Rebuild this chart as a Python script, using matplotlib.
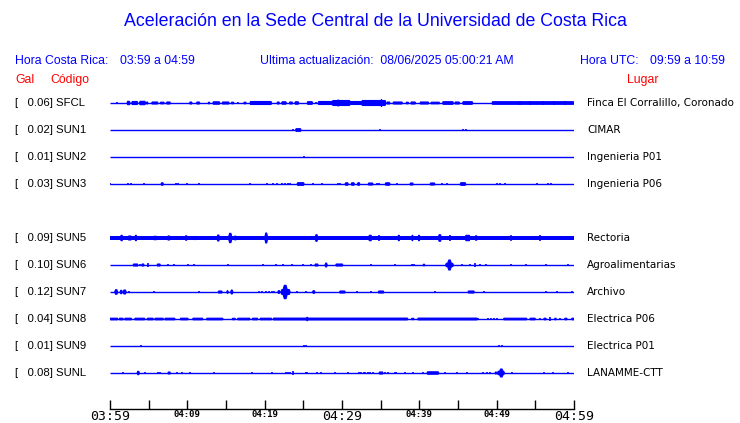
import matplotlib
matplotlib.use('Agg')
import matplotlib.pyplot as plt
from matplotlib.transforms import blended_transform_factory

# station table (top to bottom), SUN4 slot left empty
codes = ['SFCL', 'SUN1', 'SUN2', 'SUN3', 'SUN5', 'SUN6', 'SUN7', 'SUN8', 'SUN9', 'SUNL']
gals = [0.06, 0.02, 0.01, 0.03, 0.09, 0.10, 0.12, 0.04, 0.01, 0.08]
places = ['Finca El Corralillo, Coronado', 'CIMAR', 'Ingenieria P01', 'Ingenieria P06',
          'Rectoria', 'Agroalimentarias', 'Archivo', 'Electrica P06', 'Electrica P01',
          'LANAMME-CTT']

# minutes since 03:59, tick labels every 10 min
tick_min = list(range(0, 61, 5))
tick_lbl = {0: '03:59', 10: '04:09', 20: '04:19', 30: '04:29', 40: '04:39', 50: '04:49', 60: '04:59'}

# steady noise level of each trace (half width, px)
base_amp = [0, 0, 0, 0, 1.7, 0, 0, 0.3, 0, 0]

# bursts: (start min, end min, half amplitude px)
sfcl = [(0.8, 1.0, 0.7), (2.2, 2.6, 1.7), (2.8, 3.6, 1.5), (3.8, 4.6, 1.7), (4.7, 4.9, 1.0),
        (5.4, 6.2, 1.0), (6.5, 7.0, 0.8), (7.3, 7.8, 1.0), (10.3, 10.6, 1.0), (11.2, 11.6, 1.0),
        (12.7, 12.9, 0.8), (13.3, 14.2, 1.2), (14.5, 15.4, 1.0), (15.7, 16.0, 0.8),
        (16.5, 16.7, 0.8), (17.3, 17.6, 0.8), (18.1, 20.9, 1.5), (19.2, 19.4, 2.3),
        (21.6, 21.9, 1.0), (22.2, 22.8, 1.2), (23.2, 23.6, 1.0), (23.9, 24.4, 1.2),
        (25.5, 26.2, 1.3), (26.5, 26.7, 0.8), (26.9, 28.8, 1.5), (28.7, 31.1, 2.5),
        (29.4, 29.6, 3.0), (31.0, 32.6, 1.5), (32.5, 35.7, 2.5), (35.0, 35.2, 3.3),
        (35.8, 36.2, 1.0), (36.6, 37.8, 1.0), (38.3, 38.6, 0.8), (38.9, 39.5, 1.0),
        (40.1, 41.2, 1.0), (41.5, 42.6, 0.8), (43.0, 44.4, 1.3), (44.6, 45.2, 1.0),
        (45.6, 46.9, 1.3), (49.4, 60.0, 1.3), (53.0, 53.1, 2.0), (54.3, 54.4, 2.0),
        (56.0, 56.1, 2.0), (57.3, 57.4, 2.0), (58.8, 58.9, 2.0)]
sun1 = [(23.7, 23.7, 1.2), (24.0, 24.7, 1.3), (34.9, 34.9, 1.2), (45.6, 45.7, 1.2), (46.0, 46.1, 1.2)]
sun2 = [(25.1, 25.1, 1.3)]
sun3 = [(0.0, 0.0, 0.7), (2.3, 2.3, 1.0), (2.7, 2.7, 1.0), (4.4, 4.4, 1.0), (6.6, 6.9, 1.2),
        (8.5, 8.5, 1.0), (8.8, 8.8, 1.2), (10.0, 10.0, 0.5), (11.5, 11.5, 1.0), (18.1, 18.2, 1.0),
        (20.3, 20.3, 0.5), (21.1, 21.1, 1.0), (21.6, 21.6, 0.8), (22.2, 22.2, 0.8),
        (22.6, 22.6, 0.8), (23.0, 23.0, 0.8), (23.3, 23.3, 0.8), (24.2, 25.1, 1.3),
        (26.2, 26.3, 1.0), (27.4, 27.4, 0.7), (29.5, 29.5, 0.5), (29.7, 29.9, 1.0),
        (30.4, 30.8, 1.2), (31.2, 31.6, 1.2), (32.0, 32.3, 1.3), (33.4, 34.0, 1.0),
        (34.5, 34.5, 0.8), (34.8, 34.8, 0.8), (35.6, 36.2, 1.2), (37.1, 37.2, 1.0),
        (38.8, 39.2, 1.0), (41.4, 42.0, 1.0), (42.9, 42.9, 0.8), (43.6, 43.6, 0.8),
        (45.3, 46.0, 1.3), (50.0, 50.0, 0.7), (50.4, 50.4, 0.7), (51.1, 51.1, 0.7),
        (55.2, 55.2, 0.7), (56.6, 56.6, 0.7), (57.0, 57.0, 0.7)]
sun5 = [(1.3, 1.7, 2.7), (2.3, 2.8, 2.0), (3.2, 3.5, 2.7), (5.6, 6.1, 1.7), (7.4, 7.8, 2.0),
        (9.7, 10.0, 2.3), (10.7, 11.3, 1.5), (11.6, 11.6, 1.7), (13.3, 13.3, 1.5),
        (13.8, 14.2, 3.0), (15.3, 15.8, 4.7), (16.0, 16.4, 1.8), (20.0, 20.4, 5.0),
        (23.3, 23.3, 1.7), (24.3, 24.3, 1.7), (25.0, 25.0, 1.7), (26.5, 26.9, 3.3),
        (28.2, 28.2, 2.0), (32.1, 32.3, 2.0), (33.4, 33.9, 2.7), (34.7, 34.9, 3.3),
        (35.3, 35.3, 2.0), (36.6, 36.6, 1.5), (37.2, 37.5, 2.7), (38.4, 38.4, 2.0),
        (39.0, 39.2, 2.7), (39.8, 40.1, 2.7), (42.4, 42.9, 3.3), (44.0, 44.0, 2.7),
        (45.3, 45.3, 1.7), (45.9, 46.6, 2.7), (47.2, 47.5, 2.3), (50.0, 50.0, 1.5),
        (51.7, 52.0, 2.3), (52.8, 52.8, 1.7), (55.6, 55.6, 3.0), (57.8, 57.8, 1.5),
        (59.7, 59.9, 1.7)]
sun6 = [(3.0, 3.6, 1.0), (3.9, 3.9, 1.0), (4.1, 4.4, 1.0), (4.9, 4.9, 1.7), (6.1, 6.5, 1.0),
        (7.5, 7.5, 1.0), (8.3, 8.3, 0.8), (10.1, 10.1, 1.0), (10.9, 10.9, 1.0), (15.3, 15.3, 0.8),
        (19.8, 19.8, 0.7), (21.5, 21.5, 0.7), (22.4, 22.4, 0.7), (23.5, 23.5, 1.0),
        (25.0, 25.0, 0.7), (26.0, 26.0, 0.7), (26.5, 26.9, 1.0), (27.8, 28.1, 2.0),
        (29.2, 30.1, 1.0), (33.7, 33.7, 1.0), (36.9, 36.9, 0.8), (39.0, 39.0, 0.8),
        (39.3, 39.3, 0.8), (40.5, 40.7, 0.8), (43.4, 44.4, 1.7), (43.6, 44.2, 5.0),
        (45.5, 45.5, 0.8), (46.6, 46.6, 0.8), (47.1, 47.3, 1.7), (47.8, 47.8, 0.8),
        (48.6, 48.6, 0.8), (51.9, 51.9, 0.8), (53.8, 53.8, 0.8), (56.4, 56.4, 0.8),
        (59.2, 59.2, 0.8)]
sun7 = [(0.6, 1.0, 2.3), (1.3, 1.6, 1.7), (1.7, 2.1, 2.0), (2.5, 2.5, 1.0), (5.7, 5.7, 0.8),
        (9.8, 9.8, 0.5), (11.5, 11.5, 1.0), (14.0, 14.5, 1.0), (15.1, 15.3, 1.3),
        (15.6, 15.9, 2.0), (19.3, 19.3, 1.3), (19.7, 19.7, 1.3), (20.2, 20.2, 0.8),
        (20.6, 20.6, 0.8), (21.0, 21.0, 0.8), (21.2, 21.2, 0.8), (21.7, 22.0, 1.3),
        (22.1, 23.3, 2.5), (22.3, 23.0, 6.7), (24.2, 24.2, 0.8), (25.3, 25.3, 0.8),
        (26.2, 26.5, 1.3), (29.7, 30.4, 1.0), (31.9, 31.9, 1.0), (33.7, 33.7, 0.7),
        (34.7, 35.4, 1.0), (42.0, 42.0, 0.7), (46.3, 47.1, 1.0), (48.4, 48.4, 0.8),
        (56.4, 56.4, 0.7), (57.8, 57.8, 0.7), (59.6, 59.8, 1.0)]
sun8 = [(0.0, 1.0, 0.8), (1.2, 1.7, 0.8), (1.9, 2.8, 0.8), (3.2, 4.5, 0.8), (4.8, 5.6, 0.8),
        (5.8, 6.9, 0.8), (7.1, 8.4, 0.8), (9.1, 10.1, 0.8), (10.7, 12.0, 0.8), (12.5, 14.6, 0.8),
        (15.8, 16.2, 0.7), (16.5, 18.1, 0.8), (18.4, 19.1, 0.8), (19.4, 20.9, 0.8),
        (21.1, 31.0, 0.9), (25.4, 25.6, 1.7), (31.0, 38.5, 0.9), (39.0, 39.3, 0.7),
        (39.8, 47.5, 0.9), (47.6, 47.7, 0.8), (48.9, 48.9, 0.8), (49.3, 49.3, 0.8),
        (49.7, 49.7, 0.8), (50.1, 50.1, 0.8), (50.9, 53.9, 0.8), (54.3, 55.0, 0.8),
        (55.6, 55.6, 0.8), (56.1, 56.4, 0.8), (56.9, 57.0, 1.7), (57.5, 57.7, 0.8),
        (58.2, 58.2, 0.8), (58.8, 59.1, 0.8), (59.7, 60.0, 0.8)]
sun9 = [(4.0, 4.0, 1.0), (9.8, 9.8, 0.5), (25.1, 25.1, 0.8), (25.4, 25.4, 0.8), (50.3, 50.3, 0.8),
        (50.7, 50.7, 0.8)]
sunl = [(1.7, 1.7, 0.8), (3.5, 3.8, 1.7), (4.5, 4.5, 1.0), (6.2, 6.2, 1.0), (6.5, 6.5, 0.8),
        (7.5, 7.8, 1.0), (8.7, 8.7, 0.8), (9.3, 9.3, 0.8), (10.3, 10.3, 0.8), (13.4, 13.4, 0.8),
        (18.4, 18.4, 0.8), (20.9, 20.9, 1.0), (22.8, 22.8, 1.0), (23.0, 23.0, 1.0),
        (23.3, 23.3, 1.0), (23.7, 23.7, 1.7), (25.3, 25.3, 1.0), (25.5, 25.5, 1.0),
        (26.8, 26.8, 0.8), (27.3, 27.3, 0.8), (29.0, 29.2, 1.0), (30.8, 30.8, 0.8),
        (32.2, 32.2, 1.0), (32.5, 32.5, 1.0), (32.8, 32.8, 1.0), (33.0, 33.0, 1.0),
        (33.3, 33.3, 1.0), (33.6, 33.6, 1.3), (34.0, 34.0, 1.0), (34.8, 35.3, 1.0),
        (35.6, 35.6, 1.0), (35.9, 35.9, 1.0), (36.9, 36.9, 1.0), (37.0, 37.0, 0.8),
        (38.1, 38.1, 0.8), (39.2, 39.2, 1.0), (40.5, 40.5, 0.8), (41.0, 42.5, 1.2),
        (43.3, 43.3, 1.0), (44.9, 44.9, 1.0), (46.2, 46.2, 0.8), (48.2, 48.2, 0.8),
        (48.7, 48.7, 0.8), (49.1, 49.1, 0.8), (49.8, 50.0, 1.0), (50.1, 51.0, 1.7),
        (50.3, 50.9, 4.0), (52.0, 52.0, 0.8), (56.1, 56.1, 0.8), (57.3, 57.3, 0.8),
        (59.2, 59.2, 0.8)]
bursts = [sfcl, sun1, sun2, sun3, sun5, sun6, sun7, sun8, sun9, sunl]

W, H = 740, 423
ROW_PX = 27
slots = [0, 1, 2, 3, 5, 6, 7, 8, 9, 10]
blue = '#0000ff'
red = '#ff0000'
sans = 'Liberation Sans'

fig = plt.figure(figsize=(W / 100, H / 100), dpi=100)
fig.patch.set_facecolor('white')
ax = fig.add_axes([110 / W, 14 / H, 464 / W, (409 - 90) / H])
ax.set_xlim(0, 60)
ax.set_ylim((409 - 103) / ROW_PX, (90 - 103) / ROW_PX)

for slot, base, ev in zip(slots, base_amp, bursts):
    ax.hlines(slot, 0, 60, color=blue, lw=1.0)
    if base > 0:
        ax.bar(0, 2 * base / ROW_PX, width=60, bottom=slot - base / ROW_PX,
               align='edge', color=blue, lw=0)
    for t0, t1, amp in ev:
        a = amp / ROW_PX
        w = t1 - t0
        if w < 0.2:
            # single spike
            ax.vlines((t0 + t1) / 2, slot - a, slot + a, color=blue, lw=1.2)
        else:
            # burst, ends tapered more for the big ones
            d = min(w / 3, 0.05 * amp)
            xs = [t0, t0 + d, t1 - d, t1, t1 - d, t0 + d]
            ys = [slot, slot - a, slot - a, slot, slot + a, slot + a]
            ax.fill(xs, ys, color=blue, lw=0.8)

for s in ['left', 'right', 'top']:
    ax.spines[s].set_visible(False)
ax.spines['bottom'].set_linewidth(1.0)
ax.set_yticks([])
ax.set_xticks(tick_min)
ax.set_xticklabels([tick_lbl.get(t, '') for t in tick_min])
ax.tick_params(axis='x', direction='in', length=6.5, width=1.0, pad=1.0)
for t, lab in zip(tick_min, ax.get_xticklabels()):
    lab.set_fontfamily('DejaVu Sans Mono')
    if t % 30 == 0:
        lab.set_fontsize(9.5)
    else:
        lab.set_fontsize(6.5)
        lab.set_fontweight('bold')

# row labels
tr = blended_transform_factory(fig.transFigure, ax.transData)
for slot, g, c, p in zip(slots, gals, codes, places):
    ax.text(15 / W, slot, '[   %.2f] %s' % (g, c), transform=tr, ha='left', va='center',
            fontsize=8.2, family=sans, color='black')
    ax.text(587 / W, slot, p, transform=tr, ha='left', va='center',
            fontsize=7.5, family='DejaVu Sans', color='black')


def ftext(x, y, s, **kw):
    fig.text(x / W, 1 - y / H, s, va='center', family=sans, **kw)


ftext(375, 22, 'Aceleración en la Sede Central de la Universidad de Costa Rica',
      ha='center', fontsize=12.8, color=blue)
ftext(15, 61, 'Hora Costa Rica:', ha='left', fontsize=8.8, color=blue)
ftext(120, 61, '03:59 a 04:59', ha='left', fontsize=8.8, color=blue)
ftext(387, 61, 'Ultima actualización:  08/06/2025 05:00:21 AM', ha='center', fontsize=8.8, color=blue)
ftext(580, 61, 'Hora UTC:', ha='left', fontsize=8.8, color=blue)
ftext(650, 61, '09:59 a 10:59', ha='left', fontsize=8.8, color=blue)
ftext(15, 80, 'Gal', ha='left', fontsize=8.8, color=red)
ftext(50, 80, 'Código', ha='left', fontsize=8.8, color=red)
ftext(627, 80, 'Lugar', ha='left', fontsize=8.8, color=red)

fig.savefig('out.png', dpi=100)
